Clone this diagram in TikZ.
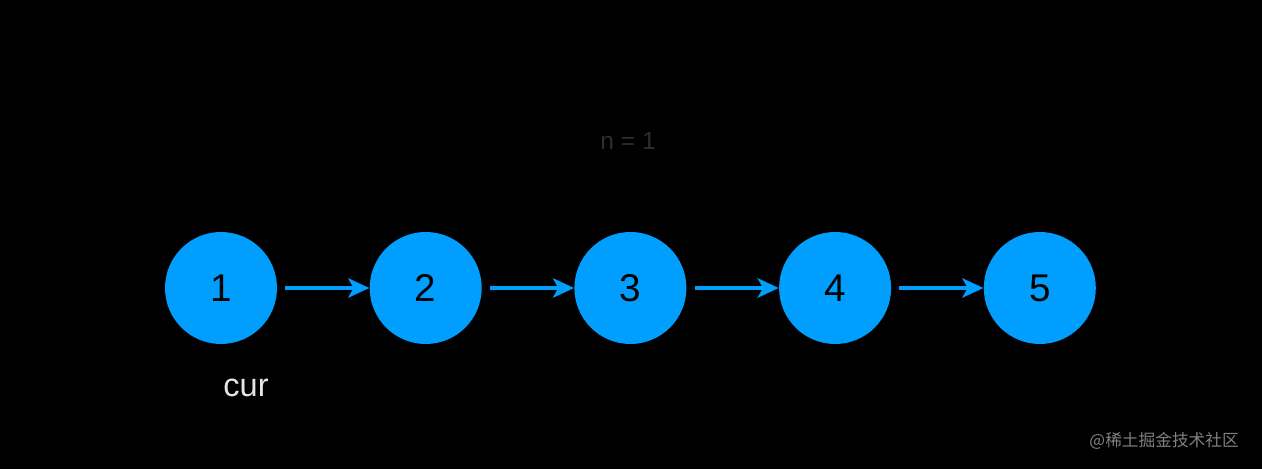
\documentclass[tikz,border=0pt]{standalone}
\usepackage{fontspec}
\setmainfont{Liberation Sans}
\newfontfamily\cjk{Noto Sans CJK SC}
\usetikzlibrary{positioning}
\usetikzlibrary{arrows.meta}
\definecolor{nodeblue}{HTML}{009EFF}
\definecolor{dimgray}{HTML}{2E2E2E}

\begin{document}
\begin{tikzpicture}[node distance = 1.84cm,
    listnode/.style = {circle, fill = nodeblue, minimum size = 2.24cm, inner sep = 0pt, font = \fontsize{22}{24}\selectfont},
    link/.style = {-{Stealth[length = 12pt, width = 11pt, inset = 3pt]}, draw = nodeblue, line width = 2.2pt, shorten <= 0.16cm}]
        \fill[black] (0, 0) rectangle (25.24, 9.38);
        \useasboundingbox (0, 0) rectangle (25.24, 9.38);

        \node[listnode] (n1) at (4.42, 3.62) {1};
        \node[listnode] (n2) [right = of n1] {2};
        \node[listnode] (n3) [right = of n2] {3};
        \node[listnode] (n4) [right = of n3] {4};
        \node[listnode] (n5) [right = of n4] {5};

        \node[text = dimgray, font = \fontsize{14}{16}\selectfont] (step) at (12.56, 6.56) {n = 1};
        \node[text = white!90!black, font = \fontsize{18.5}{20}\selectfont] (cur) at (4.92, 1.62) {cur};
        \node[text = white!50!black, font = \cjk\fontsize{9.5}{11}\selectfont, anchor = east] (mark) at (24.9, 0.56) {@稀土掘金技术社区};

        \draw[link] (n1) -- (n2);
        \draw[link] (n2) -- (n3);
        \draw[link] (n3) -- (n4);
        \draw[link] (n4) -- (n5);
    \end{tikzpicture}
\end{document}
